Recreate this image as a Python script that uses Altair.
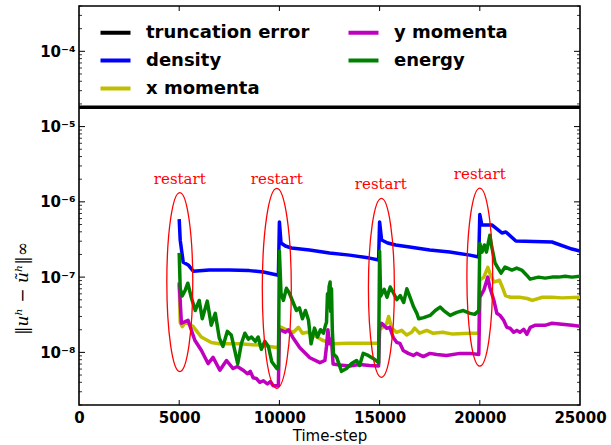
import altair as alt
import pandas as pd

# ---------------- data ----------------
trunc_steps = [0, 25000]
trunc_vals = [1.8e-5, 1.8e-5]

density_steps = [5000, 5050, 5200, 5450, 5700, 6500, 7500, 8500, 9200, 9950,
                 10000, 10080, 10300, 10600, 11500, 12500, 13500, 14500, 14950,
                 15000, 15100, 15400, 15800, 16500, 17500, 18500, 19500, 19950,
                 20000, 20100, 20600, 21100, 21300, 21800, 23600, 24600, 25000]
density_vals = [5.9e-7, 3.1e-7, 1.58e-7, 1.45e-7, 1.2e-7, 1.24e-7, 1.24e-7, 1.22e-7, 1.17e-7, 1.06e-7,
                5.4e-7, 2.84e-7, 2.59e-7, 2.44e-7, 2.29e-7, 2.09e-7, 1.96e-7, 1.79e-7, 1.69e-7,
                5.4e-7, 3.11e-7, 2.84e-7, 2.67e-7, 2.51e-7, 2.29e-7, 2.15e-7, 1.96e-7, 1.85e-7,
                6.8e-7, 4.94e-7, 4.94e-7, 3.86e-7, 3.98e-7, 3.02e-7, 2.93e-7, 2.36e-7, 2.22e-7]

xmom_steps = [5000, 5050, 5150, 5300, 5450, 5700, 6100, 6600, 7000, 8000, 9000, 9950,
              10000, 10100, 10400, 10700, 10950, 11150, 11400, 11700, 12150, 12700, 13400, 14950,
              15000, 15150, 15350, 15450, 15600, 15850, 16100, 16350, 16600, 16750, 17000, 17350,
              17650, 18150, 18650, 19500, 19950,
              20000, 20200, 20400, 20500, 20700, 20980, 21130, 21280, 21530, 21980, 22370, 22620,
              23120, 23600, 24100, 25000]
xmom_vals = [8.0e-8, 2.5e-8, 2.2e-8, 2.5e-8, 2.4e-8, 2.2e-8, 1.6e-8, 1.35e-8, 1.3e-8, 1.3e-8, 1.25e-8, 1.15e-8,
             2.2e-8, 2.15e-8, 1.96e-8, 1.85e-8, 2.15e-8, 1.8e-8, 1.85e-8, 1.7e-8, 1.45e-8, 1.3e-8, 1.32e-8, 1.32e-8,
             2.0e-8, 2.15e-8, 2.4e-8, 3.0e-8, 2.1e-8, 1.85e-8, 1.96e-8, 1.7e-8, 1.85e-8, 2.1e-8, 1.8e-8, 1.96e-8,
             1.8e-8, 1.85e-8, 1.75e-8, 1.8e-8, 1.8e-8,
             9.1e-8, 1.0e-7, 1.35e-7, 1.13e-7, 8.6e-8, 9.1e-8, 7.3e-8, 5.7e-8, 5.4e-8, 5.4e-8, 5.2e-8, 4.9e-8,
             5.4e-8, 5.4e-8, 5.3e-8, 5.4e-8]

ymom_steps = [5000, 5110, 5440, 5600, 5780, 6110, 6440, 6690, 7030, 7360, 7690, 7900, 8190, 8400,
              8550, 8690, 8850, 9020, 9200, 9400, 9550, 9690, 9950,
              10000, 10100, 10300, 10450, 10670, 11020, 11520, 12020, 12270, 12350, 12420, 12500,
              12600, 12680, 13000, 13500, 14000, 14500, 14950,
              15000, 15100, 15350, 15510, 15680, 15850, 16010, 16180, 16430, 16680, 16850, 17180,
              17510, 17850, 18340, 19010, 19510, 19950,
              20000, 20200, 20400, 20500, 20700, 20850, 21010, 21190, 21350, 21510, 21690, 21850,
              22000, 22190, 22350, 22520, 22750, 23250, 23600, 24100, 24600, 25000]
ymom_vals = [8.5e-8, 2.44e-8, 2.67e-8, 2.0e-8, 1.45e-8, 1.06e-8, 7.1e-9, 8.6e-9, 5.8e-9, 7.8e-9, 6.1e-9, 6.5e-9, 5.8e-9, 5.2e-9,
             5.6e-9, 4.6e-9, 4.5e-9, 4.0e-9, 4.2e-9, 3.8e-9, 4.1e-9, 3.6e-9, 3.6e-9,
             2.0e-8, 1.96e-8, 1.85e-8, 2.0e-8, 1.58e-8, 1.15e-8, 8.5e-9, 7.3e-9, 7.8e-9, 1.2e-8, 2.0e-8, 1.3e-8,
             1.5e-8, 7.0e-9, 6.8e-9, 6.6e-9, 6.9e-9, 6.7e-9, 6.6e-9,
             2.15e-8, 2.44e-8, 2.09e-8, 2.15e-8, 1.58e-8, 1.36e-8, 1.32e-8, 1.06e-8, 9.7e-9, 9.1e-9, 9.7e-9, 8.8e-9,
             9.7e-9, 9.4e-9, 9.1e-9, 9.7e-9, 9.7e-9, 9.4e-9,
             5.4e-8, 6.7e-8, 1.0e-7, 7.35e-8, 4.94e-8, 3.31e-8, 3.1e-8, 2.67e-8, 2.15e-8, 2.09e-8, 1.85e-8, 1.96e-8,
             1.85e-8, 2.03e-8, 1.74e-8, 2.15e-8, 2.29e-8, 2.29e-8, 2.44e-8, 2.36e-8, 2.29e-8, 2.22e-8]

energy_steps = [5000, 5050, 5150, 5300, 5430, 5600, 5800, 6000, 6150, 6400, 6600, 6800, 7000, 7180,
                7400, 7600, 7920, 8100, 8275, 8450, 8610, 8800, 8940, 9100, 9270, 9450, 9620, 9870, 9950,
                10000, 10080, 10200, 10350, 10500, 10700, 10850, 11000, 11150, 11300, 11450, 11580,
                11750, 11900, 12050, 12200, 12300, 12350, 12400, 12440, 12480, 12530, 12560, 12600,
                12640, 12700, 12850, 13100, 13350, 13600, 13850, 14000, 14180, 14430, 14680, 14950,
                15000, 15050, 15230, 15370, 15530, 15700, 15860, 16030, 16200, 16360, 16530, 16700,
                16860, 16950, 17200, 17520, 17780, 18020, 18200, 18520, 18850, 19180, 19510, 19750, 19950,
                20000, 20110, 20230, 20330, 20500, 20600, 20760, 21060, 21260, 21600, 21840, 22090,
                22340, 22510, 22930, 23260, 23600, 23930, 24260, 24600, 25000]
energy_vals = [2.1e-7, 7.1e-8, 5.6e-8, 6.7e-8, 8.3e-8, 5.4e-8, 3.6e-8, 4.9e-8, 2.8e-8, 4.8e-8, 2.3e-8, 3.3e-8, 1.55e-8, 1.2e-8,
               1.9e-8, 1.7e-8, 7.1e-9, 1.3e-8, 1.8e-8, 1.5e-8, 1.6e-8, 1.4e-8, 1.6e-8, 1.1e-8, 1.4e-8, 1.2e-8, 7.5e-9, 6.1e-9, 6.5e-9,
               2.2e-7, 6.1e-8, 4.9e-8, 7.1e-8, 6.1e-8, 4.5e-8, 3.6e-8, 3.9e-8, 2.8e-8, 3.6e-8, 2.7e-8, 1.3e-8,
               2.1e-8, 1.6e-8, 2.0e-8, 1.8e-8, 2.3e-8, 2.5e-8, 6.0e-8, 4.0e-8, 7.5e-8, 8.6e-8, 3.5e-8, 7.0e-8,
               2.0e-8, 9.5e-9, 8.7e-9, 5.6e-9, 6.1e-9, 7.1e-9, 7.8e-9, 6.7e-9, 9.7e-9, 9.1e-9, 8.3e-9, 7.3e-9,
               2.2e-7, 5.6e-8, 6.9e-8, 5.4e-8, 7.4e-8, 6.1e-8, 5.0e-8, 5.7e-8, 4.6e-8, 7.0e-8, 5.3e-8, 4.0e-8,
               3.3e-8, 2.8e-8, 2.9e-8, 3.1e-8, 3.6e-8, 4.0e-8, 3.6e-8, 3.1e-8, 3.4e-8, 3.6e-8, 3.3e-8, 3.2e-8, 3.6e-8,
               2.8e-7, 2.15e-7, 2.67e-7, 2.15e-7, 3.6e-7, 2.5e-7, 1.54e-7, 1.13e-7, 1.36e-7, 1.24e-7, 1.32e-7, 1.24e-7,
               1.06e-7, 9.4e-8, 1.0e-7, 9.7e-8, 1.0e-7, 1.0e-7, 1.03e-7, 1.0e-7, 1.03e-7]

# restart annotations (ellipse centres and label anchors, in data units)
restart_steps = [5030, 9870, 15090, 20000]
restart_vals = [8.6e-8, 7.1e-8, 7.2e-8, 1.0e-7]
restart_label_steps = [5030, 9870, 15060, 20000]
restart_label_vals = [2.03e-6, 2.03e-6, 1.74e-6, 2.36e-6]
restart_text = ["restart", "restart", "restart", "restart"]

x_tick_values = [0, 5000, 10000, 15000, 20000, 25000]
y_tick_values = [1e-8, 1e-7, 1e-6, 1e-5, 1e-4]

series_names = ["truncation error", "density", "x momenta", "y momenta", "energy"]
series_colors = ["#000000", "#0000ff", "#bfbf00", "#bf00bf", "#008000"]

# ---------------- build tables ----------------
rows = []
for name, st, vl in [("truncation error", trunc_steps, trunc_vals),
                     ("density", density_steps, density_vals),
                     ("x momenta", xmom_steps, xmom_vals),
                     ("y momenta", ymom_steps, ymom_vals),
                     ("energy", energy_steps, energy_vals)]:
    for i, (s, v) in enumerate(zip(st, vl)):
        rows.append({"series": name, "step": s, "value": v, "idx": i})
df = pd.DataFrame(rows)

ell_sizes = [32041, 40000, 32041, 31684]
ell_df = pd.DataFrame({"step": restart_steps, "value": restart_vals, "sz": ell_sizes})
lab_df = pd.DataFrame({"step": restart_label_steps, "value": restart_label_vals, "txt": restart_text})

W, H = 501, 399

xscale = alt.Scale(domain=[0, 25000], nice=False, zero=False)
yscale = alt.Scale(type="log", domain=[2e-9, 4e-4], nice=False)

x_axis = alt.Axis(values=x_tick_values, format="d", ticks=False, domain=False, grid=False,
                  labelFont="DejaVu Sans", labelFontWeight="bold", labelFontSize=15,
                  labelColor="black", labelPadding=5, labelOverlap=False, labelFlush=False,
                  title="Time-step", titleFont="DejaVu Sans", titleFontWeight="normal",
                  titleFontSize=15, titleColor="black", titleY=35, titleBaseline="alphabetic")
y_axis = alt.Axis(values=y_tick_values, ticks=False, domain=False, grid=False,
                  labelExpr="datum.value < 5e-8 ? '10⁻⁸' : datum.value < 5e-7 ? '10⁻⁷' : datum.value < 5e-6 ? '10⁻⁶' : datum.value < 5e-5 ? '10⁻⁵' : '10⁻⁴'",
                  labelFont="DejaVu Sans", labelFontWeight="bold", labelFontSize=15,
                  labelColor="black", labelPadding=4, labelOverlap=False, labelFlush=False,
                  title="‖uʰ − ũʰ‖∞", titleFont="DejaVu Serif", titleFontStyle="italic",
                  titleFontWeight="normal", titleFontSize=17, titleColor="black",
                  titleX=-57, titleY=282, titleAlign="center", titleBaseline="middle", titleAngle=270)

X = alt.X("step:Q", scale=xscale, axis=x_axis)
Y = alt.Y("value:Q", scale=yscale, axis=y_axis)

color = alt.Color("series:N",
                  scale=alt.Scale(domain=series_names, range=series_colors),
                  legend=alt.Legend(title=None, orient="none", legendX=27, legendY=17,
                                    columns=2, symbolType="M-2,0L2,0", symbolSize=225,
                                    symbolStrokeWidth=4, labelFont="DejaVu Sans",
                                    labelFontWeight="bold", labelFontSize=18, labelColor="black",
                                    labelOffset=21, labelLimit=400, rowPadding=9,
                                    columnPadding=30, padding=0, labelBaseline="middle"))

layers = []
for name in series_names:
    layers.append(
        alt.Chart(df).transform_filter(alt.datum.series == name)
        .mark_line(strokeWidth=3.5, strokeJoin="round", clip=True)
        .encode(x=X, y=Y, color=color, order="idx:Q")
    )

ELLIPSE = ("M-0.145,0 C-0.145,-0.5523 -0.0801,-1 0,-1 C0.0801,-1 0.145,-0.5523 0.145,0 "
           "C0.145,0.5523 0.0801,1 0,1 C-0.0801,1 -0.145,0.5523 -0.145,0 Z")
ellipses = alt.Chart(ell_df).mark_point(shape=ELLIPSE, filled=False, color="red",
                                        strokeWidth=1.3, opacity=1).encode(
    x=X, y=Y, size=alt.Size("sz:Q", scale=None))
labels = alt.Chart(lab_df).mark_text(font="DejaVu Serif", fontSize=15, color="red",
                                     align="center", baseline="middle").encode(
    x=X, y=Y, text="txt:N")

# inward tick marks (matplotlib style)
xt_df = pd.DataFrame({"step": [5000, 10000, 15000, 20000]})
xt_bottom = alt.Chart(xt_df).mark_rule(color="black", strokeWidth=1).encode(
    x=X, y=alt.value(H), y2=alt.value(H - 5))
xt_top = alt.Chart(xt_df).mark_rule(color="black", strokeWidth=1).encode(
    x=X, y=alt.value(0), y2=alt.value(5))
major_df = pd.DataFrame({"value": y_tick_values})
minor_vals = [m * 10.0 ** e for e in range(-9, -3) for m in range(2, 10)
              if 2e-9 <= m * 10.0 ** e <= 4e-4]
minor_df = pd.DataFrame({"value": minor_vals})
yt_major_l = alt.Chart(major_df).mark_rule(color="black", strokeWidth=1).encode(
    y=Y, x=alt.value(0), x2=alt.value(6))
yt_major_r = alt.Chart(major_df).mark_rule(color="black", strokeWidth=1).encode(
    y=Y, x=alt.value(W), x2=alt.value(W - 6))
yt_minor_l = alt.Chart(minor_df).mark_rule(color="black", strokeWidth=0.8).encode(
    y=Y, x=alt.value(0), x2=alt.value(3))
yt_minor_r = alt.Chart(minor_df).mark_rule(color="black", strokeWidth=0.8).encode(
    y=Y, x=alt.value(W), x2=alt.value(W - 3))

chart = alt.layer(xt_bottom, xt_top, yt_major_l, yt_major_r, yt_minor_l, yt_minor_r,
                  *layers, ellipses, labels).properties(
    width=W, height=H,
    padding={"left": 79, "top": 6, "right": 31, "bottom": 40},
    autosize=alt.AutoSizeParams(type="none"),
    background="white",
).configure_view(stroke="black", strokeWidth=1.6)

chart.save("out.html", embed_options={"renderer": "svg", "actions": False})
